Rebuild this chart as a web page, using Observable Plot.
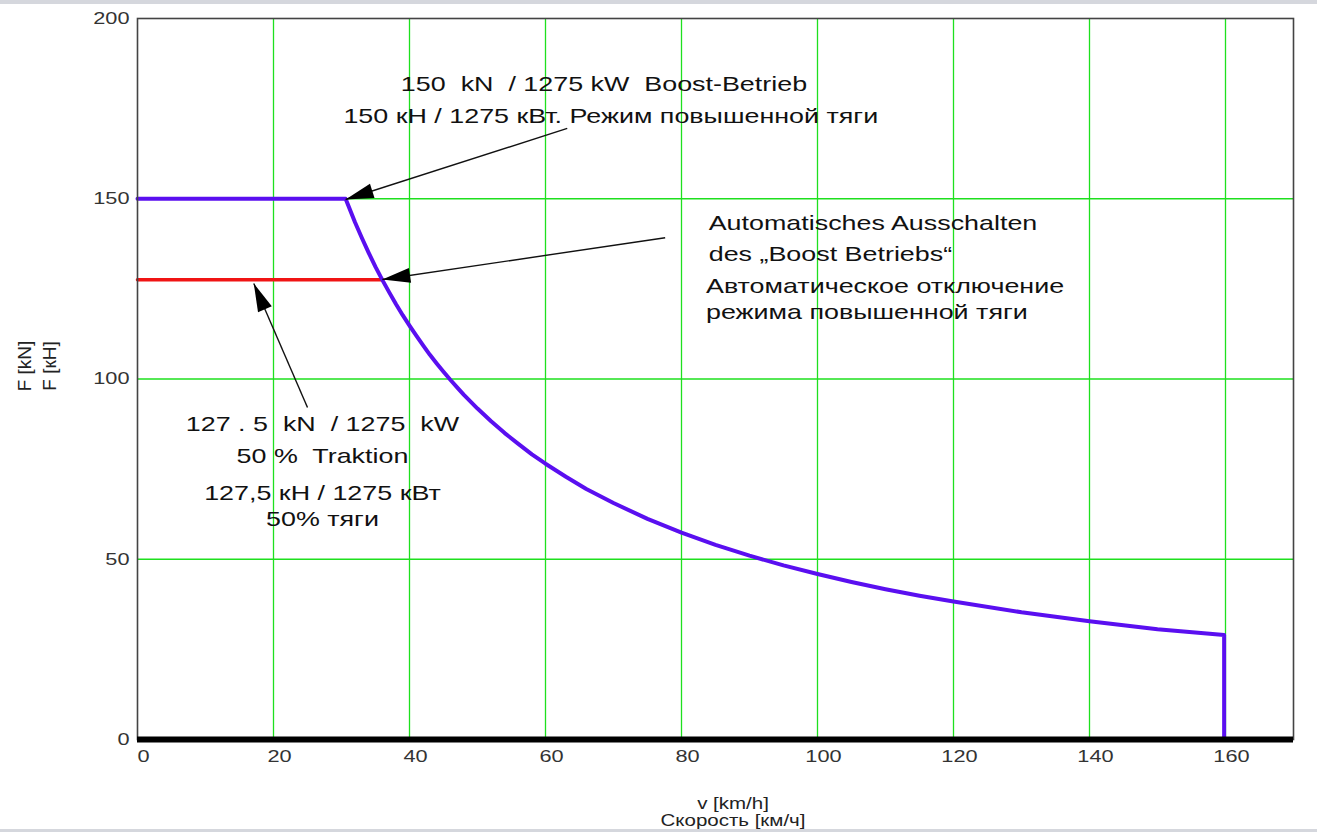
<!DOCTYPE html>
<html>
<head>
<meta charset="utf-8">
<script src="https://cdn.jsdelivr.net/npm/d3@7"></script>
<script src="https://cdn.jsdelivr.net/npm/@observablehq/plot@0.6"></script>
<style>
  html, body { margin: 0; padding: 0; background: #fff; }
  body { width: 1317px; height: 832px; position: relative; overflow: hidden; font-family: "Liberation Sans", Arial, sans-serif; }
  #chart { position: absolute; left: 0; top: 0; }
  .band { position: absolute; left: 0; width: 1317px; background: #d5d7dd; }
  .lbl { position: absolute; font-size: 16px; color: #222; white-space: nowrap; line-height: 1; }
</style>
</head>
<body>
<div id="chart"></div>
<div class="band" style="top:0;height:4px"></div>
<div class="band" style="top:829px;height:3px"></div>
<div class="lbl" style="left:24px;top:366px;font-size:19px;transform:translate(-50%,-50%) rotate(-90deg)">F [kN]</div>
<div class="lbl" style="left:49px;top:366px;font-size:19px;transform:translate(-50%,-50%) rotate(-90deg)">F [кН]</div>
<div class="lbl" style="left:733px;top:796px;transform:translateX(-50%) scaleX(1.28)">v [km/h]</div>
<div class="lbl" style="left:733px;top:813px;transform:translateX(-50%) scaleX(1.28)">Скорость [км/ч]</div>
<script>
// Tractive effort curve (boost mode)
const speed = [0, 30.6, 31, 32, 33, 34, 35, 36, 37, 38, 39, 40, 41, 42, 43, 44, 45, 46, 47, 48, 50, 52, 54, 56, 58, 60, 63, 66, 70, 75, 80, 85, 90, 95, 100, 105, 110, 115, 120, 130, 140, 150, 159.8, 159.8];
const force = [150, 150, 148.1, 143.4, 139.1, 135, 131.1, 127.5, 124.1, 120.8, 117.7, 114.8, 112, 109.3, 106.7, 104.3, 102, 99.8, 97.7, 95.6, 91.8, 88.3, 85, 82, 79.1, 76.5, 72.9, 69.5, 65.6, 61.2, 57.4, 54, 51, 48.3, 45.9, 43.7, 41.7, 39.9, 38.3, 35.3, 32.8, 30.6, 29, 0];
// 50 % traction line
const redSpeed = [0, 36];
const redForce = [127.5, 127.5];

const xTicks = [0, 20, 40, 60, 80, 100, 120, 140, 160];
const yTicks = [0, 50, 100, 150, 200];
const xGrid = [20, 40, 60, 80, 100, 120, 140, 160];
const yGrid = [50, 100, 150];

// Annotation arrows: tail -> tip (data coordinates)
const arrowX1 = [63.2, 77.6, 25.0];
const arrowY1 = [169.5, 139.2, 92.1];
const arrowX2 = [30.6, 36.0, 17.1];
const arrowY2 = [149.8, 127.6, 126.5];

// Annotation text blocks
const notesCentered = [
  {x: 68.6, y: 181.8, text: "150  kN  / 1275 kW  Boost-Betrieb"},
  {x: 69.6, y: 173.0, text: "150 кН / 1275 кВт. Режим повышенной тяги"},
  {x: 27.2, y: 87.4, text: "127 . 5  kN  / 1275  kW"},
  {x: 27.2, y: 78.5, text: "50 %  Traktion"},
  {x: 27.2, y: 68.3, text: "127,5 кН / 1275 кВт"},
  {x: 27.2, y: 61.0, text: "50% тяги"}
];
const notesLeft = [
  {x: 84.0, y: 143.3, text: "Automatisches Ausschalten"},
  {x: 84.0, y: 134.6, text: "des „Boost Betriebs“"},
  {x: 83.6, y: 125.8, text: "Автоматическое отключение"},
  {x: 83.6, y: 118.5, text: "режима повышенной тяги"}
];

const curve = speed.map((v, i) => ({v, f: force[i]}));
const red = redSpeed.map((v, i) => ({v, f: redForce[i]}));
const arrows = arrowX1.map((x1, i) => ({x1, y1: arrowY1[i], x2: arrowX2[i], y2: arrowY2[i]}));

const W = 1317, H = 832;
const base = {
  width: W, height: H,
  marginLeft: 137, marginRight: 24, marginTop: 18, marginBottom: 93,
  style: {fontFamily: "'Liberation Sans', Arial, sans-serif", background: "transparent", overflow: "visible"},
  x: {domain: [0, 170]},
  y: {domain: [0, 200]}
};

// probe to get pixel scales for arrowhead orientation
const probe = Plot.plot({...base, marks: [Plot.frame()]});
const sx = probe.scale("x"), sy = probe.scale("y");
arrows.forEach(a => {
  const dx = sx.apply(a.x2) - sx.apply(a.x1);
  const dy = sy.apply(a.y2) - sy.apply(a.y1);
  a.angle = Math.atan2(dx, -dy) * 180 / Math.PI;
});

const headSymbol = {
  draw(context) {
    // tip at origin pointing up
    context.moveTo(0, 0);
    context.lineTo(7.5, 28);
    context.lineTo(-7.5, 28);
    context.closePath();
  }
};

const chart = Plot.plot({
  ...base,
  x: {domain: [0, 170], ticks: xTicks, tickSize: 0, tickPadding: 10, label: null},
  y: {domain: [0, 200], ticks: yTicks, tickSize: 0, tickPadding: 8, label: null},
  marks: [
    Plot.ruleX(xGrid, {stroke: "#1ee01e", strokeWidth: 1.3}),
    Plot.ruleY(yGrid, {stroke: "#1ee01e", strokeWidth: 1.3}),
    Plot.axisX({ticks: xTicks, tickSize: 0, tickPadding: 10, dx: 6, fontSize: 17, fill: "#333", label: null}),
    Plot.axisY({ticks: yTicks, tickSize: 0, tickPadding: 8, fontSize: 17, fill: "#333", label: null}),
    Plot.line(red, {x: "v", y: "f", stroke: "#f01414", strokeWidth: 3.5}),
    Plot.line(curve, {x: "v", y: "f", stroke: "#5a0ff0", strokeWidth: 4, strokeLinejoin: "round", curve: "linear"}),
    Plot.link(arrows, {x1: "x1", y1: "y1", x2: "x2", y2: "y2", stroke: "#111", strokeWidth: 1.4}),
    Plot.dot(arrows, {x: "x2", y: "y2", symbol: headSymbol, rotate: "angle", fill: "#000", stroke: "none", r: 5}),
    Plot.frame({stroke: "#444", strokeWidth: 1.6}),
    Plot.ruleY([0], {stroke: "#000", strokeWidth: 6}),
    Plot.text(notesCentered, {x: "x", y: "y", text: "text", textAnchor: "middle", fontSize: 21, fill: "#111", lineAnchor: "middle"}),
    Plot.text(notesLeft, {x: "x", y: "y", text: "text", textAnchor: "start", fontSize: 21, fill: "#111", lineAnchor: "middle"})
  ]
});
// the reference's lettering is horizontally widened; stretch each text around its anchor
chart.querySelectorAll("text").forEach(t => {
  const tr = t.getAttribute("transform");
  if (tr && tr.includes("translate")) {
    t.setAttribute("transform", tr + " scale(1.28,1)");
  }
});
document.getElementById("chart").appendChild(chart);
</script>
</body>
</html>
